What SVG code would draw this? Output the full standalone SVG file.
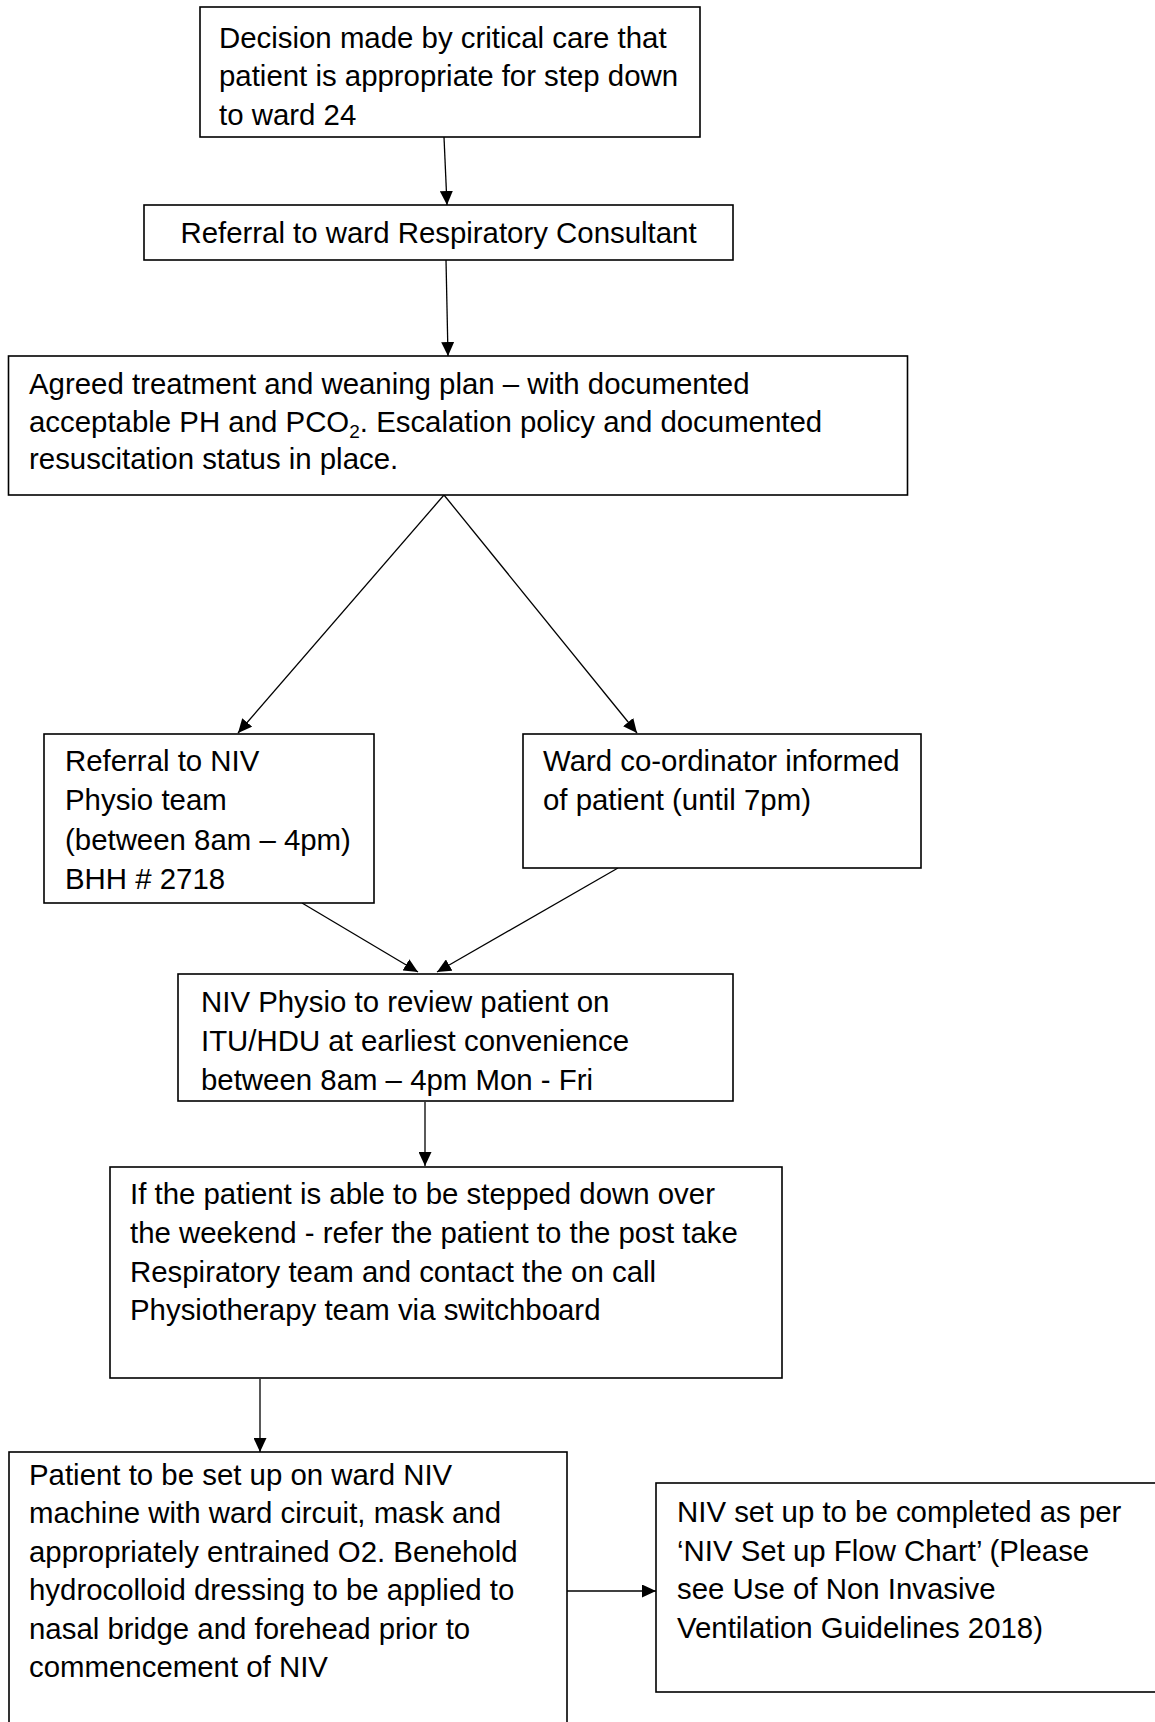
<svg xmlns="http://www.w3.org/2000/svg" width="1155" height="1722" viewBox="0 0 1155 1722">
  <defs>
    <marker id="arrow" markerUnits="userSpaceOnUse" markerWidth="15" markerHeight="13" refX="14" refY="6.5" orient="auto">
      <path d="M0,0 L14,6.5 L0,13 z" fill="#000"/>
    </marker>
    <style>
      .box { fill: #fff; stroke: #000; stroke-width: 1.6; }
      .lbl { font-family: "Liberation Sans", Arial, sans-serif; font-size: 29.4px; fill: #000; }
      .mid { text-anchor: middle; }
      .conn { stroke: #000; stroke-width: 1.3; fill: none; marker-end: url(#arrow); }
      .sub { font-size: 19px; }
    </style>
  </defs>
  <rect width="1155" height="1722" fill="#fff"/>

  <!-- connectors -->
  <g id="connectors">
    <line class="conn" x1="444" y1="137" x2="447" y2="205"/>
    <line class="conn" x1="446" y1="260" x2="448" y2="356"/>
    <line class="conn" x1="444" y1="495" x2="238" y2="733"/>
    <line class="conn" x1="444" y1="495" x2="637" y2="733"/>
    <line class="conn" x1="302" y1="903" x2="418" y2="972"/>
    <line class="conn" x1="618" y1="868" x2="437" y2="972"/>
    <line class="conn" x1="425" y1="1102" x2="425" y2="1166"/>
    <line class="conn" x1="260" y1="1379" x2="260" y2="1452"/>
    <line class="conn" x1="567" y1="1591" x2="656" y2="1591"/>
  </g>

  <g id="decision">
    <rect class="box" x="200" y="7" width="500" height="130"/>
    <text class="lbl">
      <tspan x="219" y="47.5">Decision made by critical care that</tspan>
      <tspan x="219" y="86">patient is appropriate for step down</tspan>
      <tspan x="219" y="124.5">to ward 24</tspan>
    </text>
  </g>

  <g id="consultant">
    <rect class="box" x="144" y="205" width="589" height="55"/>
    <text class="lbl mid" x="438.5" y="243">Referral to ward Respiratory Consultant</text>
  </g>

  <g id="plan">
    <rect class="box" x="8.5" y="356" width="899" height="139"/>
    <text class="lbl">
      <tspan x="29" y="394">Agreed treatment and weaning plan – with documented</tspan>
      <tspan x="29" y="431.5">acceptable PH and PCO</tspan><tspan class="sub" dy="6">2</tspan><tspan dy="-6">. Escalation policy and documented</tspan>
      <tspan x="29" y="469">resuscitation status in place.</tspan>
    </text>
  </g>

  <g id="physio-referral">
    <rect class="box" x="44" y="734" width="330" height="169"/>
    <text class="lbl">
      <tspan x="65" y="771">Referral to NIV</tspan>
      <tspan x="65" y="810">Physio team</tspan>
      <tspan x="65" y="850">(between 8am – 4pm)</tspan>
      <tspan x="65" y="889">BHH # 2718</tspan>
    </text>
  </g>

  <g id="coordinator">
    <rect class="box" x="523" y="734" width="398" height="134"/>
    <text class="lbl">
      <tspan x="543" y="771">Ward co-ordinator informed</tspan>
      <tspan x="543" y="810">of patient (until 7pm)</tspan>
    </text>
  </g>

  <g id="physio-review">
    <rect class="box" x="178" y="974" width="555" height="127"/>
    <text class="lbl">
      <tspan x="201" y="1011.5">NIV Physio to review patient on</tspan>
      <tspan x="201" y="1050.5">ITU/HDU at earliest convenience</tspan>
      <tspan x="201" y="1089.5">between 8am – 4pm Mon - Fri</tspan>
    </text>
  </g>

  <g id="weekend">
    <rect class="box" x="110" y="1167" width="672" height="211"/>
    <text class="lbl">
      <tspan x="130" y="1204">If the patient is able to be stepped down over</tspan>
      <tspan x="130" y="1243">the weekend - refer the patient to the post take</tspan>
      <tspan x="130" y="1282">Respiratory team and contact the on call</tspan>
      <tspan x="130" y="1320">Physiotherapy team via switchboard</tspan>
    </text>
  </g>

  <g id="ward-setup">
    <rect class="box" x="9" y="1452" width="558" height="290"/>
    <text class="lbl">
      <tspan x="29" y="1484.5">Patient to be set up on ward NIV</tspan>
      <tspan x="29" y="1523">machine with ward circuit, mask and</tspan>
      <tspan x="29" y="1561.5">appropriately entrained O2. Benehold</tspan>
      <tspan x="29" y="1600">hydrocolloid dressing to be applied to</tspan>
      <tspan x="29" y="1638.5">nasal bridge and forehead prior to</tspan>
      <tspan x="29" y="1677">commencement of NIV</tspan>
    </text>
  </g>

  <g id="niv-setup">
    <rect class="box" x="656" y="1483" width="510" height="209"/>
    <text class="lbl">
      <tspan x="677" y="1522">NIV set up to be completed as per</tspan>
      <tspan x="677" y="1560.5">‘NIV Set up Flow Chart’ (Please</tspan>
      <tspan x="677" y="1599">see Use of Non Invasive</tspan>
      <tspan x="677" y="1637.5">Ventilation Guidelines 2018)</tspan>
    </text>
  </g>
</svg>
